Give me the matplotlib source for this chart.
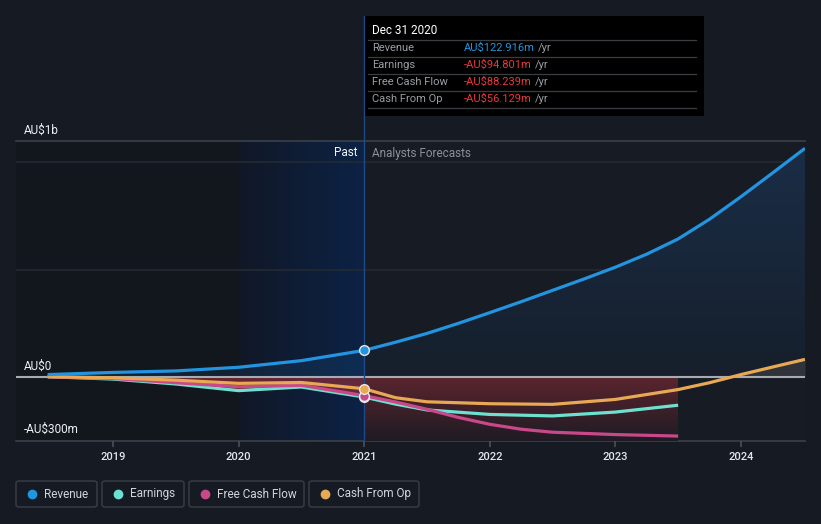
import numpy as np
import matplotlib
matplotlib.use("Agg")
import matplotlib.pyplot as plt
from matplotlib.patches import Rectangle, FancyBboxPatch, Polygon
from matplotlib.colors import LinearSegmentedColormap

plt.rcParams['font.family'] = ['Roboto', 'DejaVu Sans']

# ---- data (AU$ millions, x in decimal years) ----
rev_past_x = [2018.48, 2019.0, 2019.5, 2020.0, 2020.5, 2021.0]
rev_past = [10, 20, 27, 44, 75, 122.916]
rev_fc_x = [2021.0, 2021.25, 2021.5, 2021.75, 2022.0, 2022.25, 2022.5, 2022.75,
            2023.0, 2023.25, 2023.5, 2023.75, 2024.0, 2024.25, 2024.51]
rev_fc = [122.916, 161, 202, 249, 299, 350, 403, 456, 511, 572, 643, 735, 840, 950, 1066]

earn_past_x = [2018.48, 2019.0, 2019.5, 2020.0, 2020.5, 2021.0]
earn_past = [0, -11, -34, -65, -48, -94.801]
earn_fc_x = [2021.0, 2021.25, 2021.5, 2022.0, 2022.5, 2023.0, 2023.5]
earn_fc = [-94.801, -128, -155, -176, -183, -165, -133]

fcf_past_x = [2018.48, 2019.0, 2019.5, 2020.0, 2020.5, 2021.0]
fcf_past = [0, -8, -28, -47, -40, -88.239]
fcf_fc_x = [2021.0, 2021.25, 2021.5, 2021.75, 2022.0, 2022.25, 2022.5, 2023.0, 2023.5]
fcf_fc = [-88.239, -118, -152, -190, -222, -245, -259, -270, -277]

cfo_past_x = [2018.48, 2019.0, 2019.5, 2020.0, 2020.5, 2021.0]
cfo_past = [0, -5, -16, -31, -27, -56.129]
cfo_fc_x = [2021.0, 2021.25, 2021.5, 2022.0, 2022.5, 2023.0, 2023.5, 2023.75, 2024.0, 2024.25, 2024.51]
cfo_fc = [-56.129, -98, -117, -126, -129, -106, -60, -28, 10, 45, 81]

series_names = ["Revenue", "Earnings", "Free Cash Flow", "Cash From Op"]
series_colors = ["#2394df", "#6ee0cf", "#c9488a", "#e8a854"]
tip_values = ["AU$122.916m", "-AU$94.801m", "-AU$88.239m", "-AU$56.129m"]
year_ticks = [2019, 2020, 2021, 2022, 2023, 2024]

W, H = 821, 524
BG = "#151a23"

def fx(x):
    return x / W

def fy(y):
    return 1 - y / H

fig = plt.figure(figsize=(W / 100, H / 100), dpi=100)
fig.patch.set_facecolor(BG)

# plot area: x 16..805, y 141..441
ax = fig.add_axes([fx(16), fy(441), (805 - 16) / W, 300 / H])
ax.set_facecolor("#161b24")
x0, x1 = 2018.228, 2024.51
ax.set_xlim(x0, x1)
ax.set_ylim(-300, 1100)
for s in ax.spines.values():
    s.set_visible(False)

# background zones
ax.axvspan(x0, 2020.0, color="#12161d", zorder=0)
grad = np.linspace(0, 1, 256).reshape(1, -1)
past_cm = LinearSegmentedColormap.from_list("past", ["#111827", "#0c2245"])
ax.imshow(grad, extent=[2020.0, 2021.0, -300, 1100], aspect="auto", cmap=past_cm, zorder=0.5)

# grid lines
for yv in [500, 1000]:
    ax.axhline(yv, color="#232a33", lw=1.2, zorder=1)
ax.axhline(1100, color="#3b414b", lw=1.2, zorder=1, clip_on=False)
ax.axhline(-300, color="#3b414b", lw=1.2, zorder=1, clip_on=False)

# revenue forecast area with gradient
rev_cm = LinearSegmentedColormap.from_list("rev", ["#161f2b", "#1a2e47"])
vgrad = np.linspace(0, 1, 256).reshape(-1, 1)
im = ax.imshow(vgrad, extent=[2021.0, x1, 0, 1100], origin="lower", aspect="auto", cmap=rev_cm, zorder=1.5)
poly = Polygon(list(zip(rev_fc_x, rev_fc)) + [(rev_fc_x[-1], 0), (rev_fc_x[0], 0)],
               closed=True, transform=ax.transData, facecolor="none", edgecolor="none")
ax.add_patch(poly)
im.set_clip_path(poly)
ax.fill_between(rev_past_x, 0, rev_past, color="#2394df", alpha=0.10, lw=0, zorder=1.5)

# negative earnings area
ax.fill_between(earn_past_x, 0, earn_past, color="#b8303a", alpha=0.5, lw=0, zorder=1.6)
red_cm = LinearSegmentedColormap.from_list("red", ["#1e1b24", "#5c252e"])
ax.imshow(vgrad, extent=[2021.0, 2023.5, -300, 0], origin="lower", aspect="auto", cmap=red_cm, zorder=1.6)

# positive cash from op area
cfo_arr = np.array(cfo_fc)
ax.fill_between(cfo_fc_x, 0, cfo_arr, where=cfo_arr >= 0, interpolate=True,
                color="#30343a", lw=0, zorder=1.7)

# zero line
ax.axhline(0, color="#a7abb2", lw=1.5, zorder=2)

# lines
lw = 2.3
for xs, ys, xf, yf, c, z in [
    (rev_past_x, rev_past, rev_fc_x, rev_fc, series_colors[0], 5),
    (earn_past_x, earn_past, earn_fc_x, earn_fc, series_colors[1], 3),
    (fcf_past_x, fcf_past, fcf_fc_x, fcf_fc, series_colors[2], 4),
    (cfo_past_x, cfo_past, cfo_fc_x, cfo_fc, series_colors[3], 4.5),
]:
    ax.plot(xs, ys, color=c, lw=lw, zorder=z, solid_capstyle="butt", solid_joinstyle="round")
    ax.plot(xf, yf, color=c, lw=lw, zorder=z, solid_capstyle="butt", solid_joinstyle="round")

# marker dots at Dec 31 2020
for v, c in [(earn_past[-1], series_colors[1]), (fcf_past[-1], series_colors[2]),
             (cfo_past[-1], series_colors[3]), (rev_past[-1], series_colors[0])]:
    ax.plot([2021.0], [v], "o", ms=7, color=c, mec="#e6e8ec", mew=1.0, zorder=6)

# vertical line at 2021
ax.axvline(2021.0, ymin=0, ymax=(441 - 16) / 300, color="#1d4b8a", lw=1.0, zorder=2.5, clip_on=False)

# x ticks
ax.set_xticks(year_ticks)
ax.set_xticklabels([str(y) for y in year_ticks])
ax.set_yticks([])
ax.tick_params(axis="x", colors="#4a4f58", length=4, width=1.2, direction="out", pad=4)
for lab in ax.get_xticklabels():
    lab.set_color("#e4e6ea")
    lab.set_fontsize(8)
    lab.set_fontweight("medium")

# y labels
ylab_kw = dict(color="#eef0f3", fontsize=8.5, ha="left", va="center")
fig.text(fx(24), fy(130), "AU$1b", **ylab_kw)
fig.text(fx(24), fy(366), "AU$0", **ylab_kw)
fig.text(fx(24), fy(429), "-AU$300m", **ylab_kw)

# past / forecast labels
fig.text(fx(357), fy(153), "Past", color="#f2f4f6", fontsize=8.5, ha="right", va="center")
fig.text(fx(372), fy(153), "Analysts Forecasts", color="#8b9099", fontsize=8.5, ha="left", va="center")

# tooltip box
fig.patches.append(Rectangle((fx(365), fy(116)), (704 - 365) / W, 100 / H,
                             transform=fig.transFigure, facecolor="#000000", edgecolor="none", zorder=10))
fig.text(fx(372), fy(31), "Dec 31 2020", color="#ffffff", fontsize=8.5, ha="left", va="center", zorder=11)
row_y = [48, 65, 82, 99]
for yv in [40, 57, 74, 91, 108]:
    fig.add_artist(plt.Line2D([fx(368), fx(696)], [fy(yv), fy(yv)], transform=fig.transFigure,
                              color="#3a3d42", lw=0.9, zorder=11))
for i, name in enumerate(series_names):
    fig.text(fx(372), fy(row_y[i]), name, color="#9a9ea5", fontsize=8, ha="left", va="center", zorder=12)
    vc = "#2394df" if i == 0 else "#e8383f"
    t = fig.text(fx(464), fy(row_y[i]), tip_values[i], color=vc, fontsize=8, ha="left", va="center", zorder=12)
    fig.canvas.draw()
    bb = t.get_window_extent()
    fig.text(bb.x1 / W + 3 / W, fy(row_y[i]), "/yr", color="#9a9ea5", fontsize=8, ha="left", va="center", zorder=12)

# legend boxes
leg_boxes = [(16, 97), (102, 184), (189, 304), (309, 419)]
for (bx0, bx1), name, c in zip(leg_boxes, series_names, series_colors):
    fig.patches.append(FancyBboxPatch((fx(bx0), fy(507)), (bx1 - bx0) / W, 26 / H,
                                      boxstyle="round,pad=0,rounding_size=0.004",
                                      transform=fig.transFigure, facecolor="none",
                                      edgecolor="#3a3f48", lw=1.0))
    fig.add_artist(plt.Line2D([fx(bx0 + 16)], [fy(494)], marker="o", ms=6, color=c,
                              transform=fig.transFigure, lw=0))
    fig.text(fx(bx0 + 28), fy(494), name, color="#d2d5da", fontsize=8.5, ha="left", va="center")

fig.savefig("out.png", dpi=100, facecolor=BG)
